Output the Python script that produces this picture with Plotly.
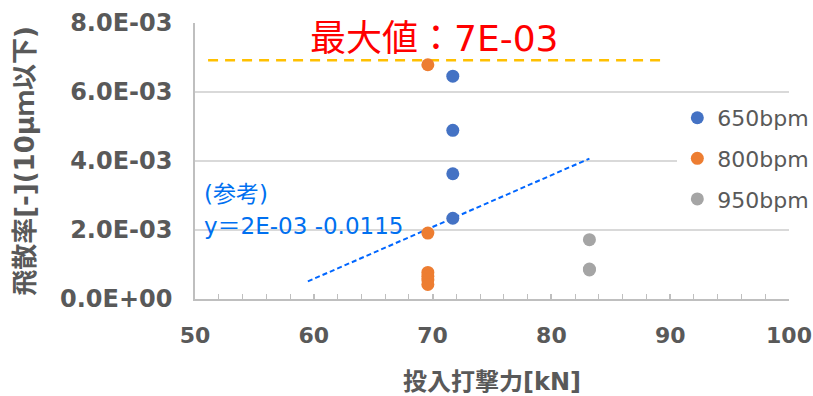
import plotly.graph_objects as go

FONT = "DejaVu Sans, Noto Sans CJK JP"
GRAY_TXT = "#595959"

# Series data
x_650 = [71.7, 71.7, 71.7, 71.7]
y_650 = [6.46e-3, 4.89e-3, 3.63e-3, 2.34e-3]

x_800 = [69.6, 69.6, 69.6, 69.6, 69.6, 69.6]
y_800 = [6.79e-3, 1.91e-3, 0.77e-3, 0.66e-3, 0.55e-3, 0.42e-3]

x_950 = [83.2, 83.2, 83.2]
y_950 = [1.72e-3, 0.87e-3, 0.84e-3]

# Reference lines
max_x = [51.1, 89.4]
max_y = [6.92e-3, 6.92e-3]
fit_x = [59.5, 83.2]
fit_y = [0.51e-3, 4.07e-3]

# Tick labels
y_tickvals = [0, 0.002, 0.004, 0.006, 0.008]
y_ticktext = ["0.0E+00", "2.0E-03", "4.0E-03", "6.0E-03", "8.0E-03"]
x_tickvals = [50, 60, 70, 80, 90, 100]

fig = go.Figure()

fig.add_trace(go.Scatter(x=max_x, y=max_y, mode="lines", showlegend=False,
                         line=dict(color="#FFC000", width=2.5, dash="10px,7px"), hoverinfo="skip"))
fig.add_trace(go.Scatter(x=fit_x, y=fit_y, mode="lines", showlegend=False,
                         line=dict(color="#0066FF", width=2, dash="5px,3px"), hoverinfo="skip"))

fig.add_trace(go.Scatter(x=x_650, y=y_650, mode="markers", name="650bpm", legendgroup="a",
                         marker=dict(color="#4472C4", size=13)))
fig.add_trace(go.Scatter(x=x_800, y=y_800, mode="markers", name="800bpm", legendgroup="b",
                         marker=dict(color="#ED7D31", size=13)))
fig.add_trace(go.Scatter(x=x_950, y=y_950, mode="markers", name="950bpm", legendgroup="c",
                         marker=dict(color="#A5A5A5", size=13)))

fig.add_annotation(x=59.5, y=0.00756, xref="x", yref="y", text="最大値：7E-03",
                   showarrow=False, xanchor="left", yanchor="middle",
                   font=dict(family=FONT, size=36, color="#FF0000"))
fig.add_annotation(x=50.6, y=0.00303, xref="x", yref="y", text="(参考)",
                   showarrow=False, xanchor="left", yanchor="middle",
                   font=dict(family=FONT, size=23, color="#0070F0"))
fig.add_annotation(x=50.6, y=0.00211, xref="x", yref="y", text="y＝2E-03 -0.0115",
                   showarrow=False, xanchor="left", yanchor="middle",
                   font=dict(family=FONT, size=23, color="#0070F0"))

fig.update_layout(
    width=813, height=396,
    margin=dict(l=195, r=24, t=23, b=97, autoexpand=False),
    plot_bgcolor="white", paper_bgcolor="white",
    font=dict(family=FONT, color=GRAY_TXT),
    legend=dict(x=0.812, y=0.732, xanchor="left", yanchor="top",
                bgcolor="white", font=dict(family=FONT, size=22, color=GRAY_TXT),
                traceorder="grouped", tracegroupgap=9, itemwidth=30),
    xaxis=dict(range=[50, 100], tickvals=x_tickvals, showgrid=False, zeroline=False,
               showline=True, linecolor="#BFBFBF", linewidth=1.5,
               ticks="inside", ticklen=5, tickcolor="#BFBFBF", tickwidth=1.5,
               minor=dict(dtick=2, ticks="inside", ticklen=5, tickcolor="#BFBFBF", tickwidth=1.2, showgrid=False),
               tickfont=dict(family=FONT, size=22, color=GRAY_TXT, weight="bold"),
               ticklabelstandoff=16, ticklabeloverflow="allow",
               title=dict(text="投入打撃力[kN]", standoff=27,
                          font=dict(family=FONT, size=24, color=GRAY_TXT, weight="bold"))),
    yaxis=dict(range=[0, 0.008], tickvals=y_tickvals, ticktext=y_ticktext,
               showgrid=True, gridcolor="#D9D9D9", gridwidth=1.5, zeroline=False,
               showline=True, linecolor="#BFBFBF", linewidth=1.5, ticks="",
               tickfont=dict(family=FONT, size=24, color=GRAY_TXT, weight="bold"),
               ticklabelstandoff=16,
               title=dict(text="飛散率[-](10μｍ以下)", standoff=18,
                          font=dict(family=FONT, size=26, color=GRAY_TXT, weight="bold"))),
)

fig.write_html("out.html", config={"displayModeBar": False},
               post_script="document.body.style.margin='0';document.body.style.overflow='hidden';")
